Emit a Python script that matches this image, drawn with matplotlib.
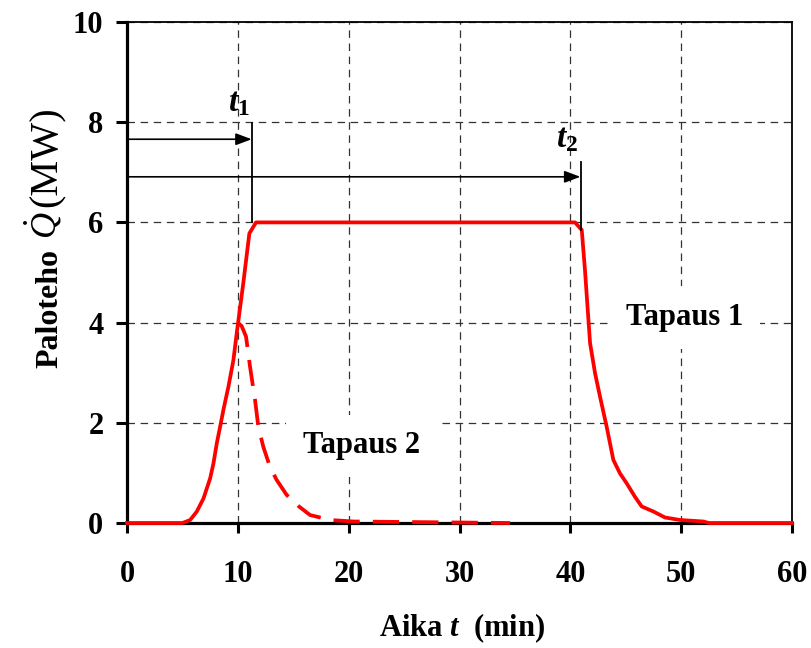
import matplotlib
matplotlib.use("Agg")
import matplotlib.pyplot as plt

plt.rcParams['font.family'] = ['Liberation Serif', 'DejaVu Serif']
plt.rcParams['mathtext.fontset'] = 'custom'
plt.rcParams['mathtext.rm'] = 'Liberation Serif'
plt.rcParams['mathtext.it'] = 'Liberation Serif:italic'
plt.rcParams['mathtext.bf'] = 'Liberation Serif:bold'
plt.rcParams['mathtext.bfit'] = 'Liberation Serif:italic:bold'

# ---- data ----
t_case1 = [0, 5.0, 5.7, 6.3, 6.9, 7.5, 7.8, 8.1, 8.4, 8.7, 9.15, 9.6, 9.9, 10.5, 11.04, 11.64,
           40.42, 41.03, 41.32, 41.78, 42.23, 42.68, 43.28, 43.88, 44.48, 45.09, 45.84,
           46.44, 47.49, 48.54, 49.9, 52.0, 52.5, 60]
q_case1 = [0, 0, 0.06, 0.23, 0.49, 0.89, 1.19, 1.59, 1.92, 2.26, 2.72, 3.25, 3.79, 4.8, 5.78, 6.0,
           6.0, 5.85, 5.05, 3.59, 2.99, 2.52, 1.92, 1.26, 0.99, 0.79, 0.52,
           0.33, 0.23, 0.11, 0.06, 0.03, 0, 0]

t_case2 = [10.05, 10.35, 10.74, 11.1, 11.55, 11.85, 12.3, 12.9, 13.5, 14.41, 15.46, 16.51,
           18.32, 20.42, 34.56]
q_case2 = [3.99, 3.93, 3.72, 3.12, 2.46, 1.92, 1.52, 1.12, 0.86, 0.56, 0.34, 0.16,
           0.06, 0.03, 0]

t1 = 11.3
t2 = 40.96
x_ticks = [0, 10, 20, 30, 40, 50, 60]
y_ticks = [0, 2, 4, 6, 8, 10]

W, H = 811, 648
fig = plt.figure(figsize=(W / 100, H / 100), dpi=100)
ax = fig.add_axes([127 / W, 1 - 523 / H, (792 - 127) / W, (523 - 22) / H])

ax.set_xlim(0, 60)
ax.set_ylim(0, 10)
ax.set_xticks(x_ticks)
ax.set_yticks(y_ticks)
ax.set_xticklabels([str(v) for v in x_ticks], fontsize=22, fontweight='bold')
ax.set_yticklabels([str(v) for v in y_ticks], fontsize=22, fontweight='bold')
ax.tick_params(axis='x', direction='out', length=7, width=2.2, pad=20)
ax.tick_params(axis='y', direction='out', length=8, width=2.2, pad=9)

for s in ['left', 'bottom']:
    ax.spines[s].set_linewidth(2.3)
for s in ['top', 'right']:
    ax.spines[s].set_linewidth(1.3)

ax.set_axisbelow(True)
ax.grid(True, color='#333333', lw=0.9, linestyle=(0, (6, 4.5)))

ax.plot(t_case1, q_case1, color='#ff0000', lw=2.7, zorder=4, clip_on=False,
        solid_joinstyle='round')
ax.plot(t_case2, q_case2, color='#ff0000', lw=2.7, zorder=4, clip_on=False,
        linestyle=(0, (7, 3.5)))

# arrows / markers for t1 and t2
arrow = dict(arrowstyle='-|>,head_length=0.8,head_width=0.3', lw=1.2, color='black',
             shrinkA=0, shrinkB=0, mutation_scale=12)
ax.annotate('', xy=(t1 - 0.05, 7.66), xytext=(0, 7.66), arrowprops=arrow, zorder=5)
ax.annotate('', xy=(t2 - 0.05, 6.91), xytext=(0, 6.91), arrowprops=arrow, zorder=5)
ax.plot([t1, t1], [6.0, 7.98], color='black', lw=1.3, zorder=5)
ax.plot([t2, t2], [5.85, 7.2], color='black', lw=1.3, zorder=5)

ax.text(9.1, 8.22, r'$\mathbfit{t}_{\mathbf{1}}$', fontsize=24, ha='left', va='baseline')
ax.text(38.75, 7.5, r'$\mathbfit{t}_{\mathbf{2}}$', fontsize=24, ha='left', va='baseline')

box = dict(boxstyle='square,pad=0.55', facecolor='white', edgecolor='none')
ax.text(50.3, 3.95, 'Tapaus 1', fontsize=22, fontweight='bold', ha='center',
        va='baseline', bbox=box, zorder=3)
ax.text(21.18, 1.39, 'Tapaus 2', fontsize=22, fontweight='bold', ha='center',
        va='baseline', bbox=box, zorder=3)

# axis labels
fig.text(462 / W, (H - 636) / H, r'Aika $\mathbfit{t}$  (min)', fontsize=22,
         fontweight='bold', ha='center', va='baseline')
fig.text(57 / W, (H - 368) / H, 'Paloteho', fontsize=23, fontweight='bold',
         rotation=90, rotation_mode='anchor', ha='left', va='baseline')
fig.text(57 / W, (H - 239) / H, r'$\dot{Q}$', fontsize=26,
         rotation=90, rotation_mode='anchor', ha='left', va='baseline')
fig.text(57 / W, (H - 207) / H, '(MW)', fontsize=29,
         rotation=90, rotation_mode='anchor', ha='left', va='baseline')

fig.savefig('out.png', dpi=100)
